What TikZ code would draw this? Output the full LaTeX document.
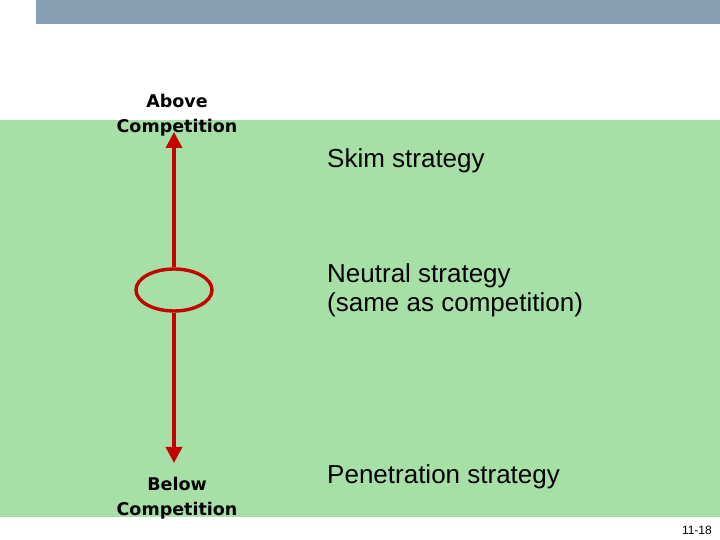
\documentclass[tikz,border=0pt]{standalone}
\usepackage{fontspec}
\setmainfont{Liberation Sans}
\newfontfamily\markfont{DejaVu Sans}
\usetikzlibrary{positioning, arrows.meta, shapes.geometric}

\definecolor{slidegreen}{RGB}{166,224,166}
\definecolor{slidebar}{RGB}{136,160,180}
\definecolor{markred}{RGB}{196,0,0}

\begin{document}
\begin{tikzpicture}[
  x=1pt, y=1pt,
  axis/.style = {draw=markred, line width=3.4pt, -{Triangle[length=16pt, width=16pt]}},
  endlabel/.style = {align=center, font=\markfont\bfseries\fontsize{17.5}{25}\selectfont, inner sep=0pt},
  strategy/.style = {anchor=west, align=left, font=\fontsize{26}{29}\selectfont, inner sep=0pt}
]
  \useasboundingbox (0,0) rectangle (720,540);

  % Place the slide background
  \fill[slidebar] (36,516) rectangle (720,540);
  \fill[slidegreen] (0,23) rectangle (720,420);

  % Place the price scale
  \node[draw=markred, line width=3.4pt, ellipse, minimum width=76pt, minimum height=42pt, inner sep=0pt] (neutral_mark) at (174,250) {};
  \coordinate (above_tip) at (174,408);
  \coordinate (below_tip) at (174,77);

  \node[endlabel] (above_label) [above=-4pt of above_tip, xshift=3pt] {Above\\Competition};
  \node[endlabel] (below_label) [below=14pt of below_tip, xshift=3pt] {Below\\Competition};

  % Draw the arrows
  \path
    (neutral_mark.north) edge[axis] (above_tip)
    (neutral_mark.south) edge[axis] (below_tip)
  ;

  % Name the strategies
  \node[strategy] (skim) at (327,379) {Skim strategy};
  \node[strategy] (neutral) at (327,250) {Neutral strategy\\(same as competition)};
  \node[strategy] (penetration) at (327,63) {Penetration strategy};

  \node[anchor=east, font=\fontsize{12}{14}\selectfont, inner sep=0pt] (page_no) at (712,10) {11-18};
\end{tikzpicture}
\end{document}
